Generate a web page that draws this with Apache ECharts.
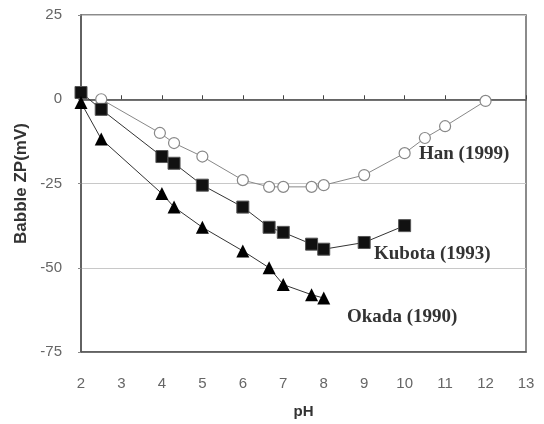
<!DOCTYPE html>
<html>
<head>
<meta charset="utf-8">
<script src="https://cdn.jsdelivr.net/npm/echarts@6/dist/echarts.min.js"></script>
<style>
  html, body { margin: 0; padding: 0; background: #fff; }
  #main { width: 544px; height: 424px; }
</style>
</head>
<body>
<div id="main"></div>
<script>
// pH / zeta potential readings for each study
var hanPH = [2.5, 3.95, 4.3, 5, 6, 6.65, 7, 7.7, 8, 9, 10, 10.5, 11, 12];
var hanZP = [0, -10, -13, -17, -24, -26, -26, -26, -25.5, -22.5, -16, -11.5, -8, -0.5];
var kubotaPH = [2, 2.5, 4, 4.3, 5, 6, 6.65, 7, 7.7, 8, 9, 10];
var kubotaZP = [2, -3, -17, -19, -25.5, -32, -38, -39.5, -43, -44.5, -42.5, -37.5];
var okadaPH = [2, 2.5, 4, 4.3, 5, 6, 6.65, 7, 7.7, 8];
var okadaZP = [-1, -11.8, -28, -32, -38, -45, -50, -55, -58, -59];
var xTicks = [2, 3, 4, 5, 6, 7, 8, 9, 10, 11, 12, 13];
var yTicks = [-75, -50, -25, 0, 25];

function pairs(xs, ys) {
    var out = [];
    for (var i = 0; i < xs.length; i++) {
        out.push([xs[i], ys[i]]);
    }
    return out;
}

var myChart = echarts.init(document.getElementById('main'));
var labelFont = { fontFamily: 'Liberation Serif', fontWeight: 'bold', fontSize: 19, fill: '#333' };

var option = {
    backgroundColor: '#fff',
    animation: false,
    grid: {
        left: 81, right: 18, top: 15, bottom: 68,
        show: true, borderColor: '#666', borderWidth: 1.5
    },
    xAxis: [{
        // zero line with ticks pointing up
        type: 'value', min: xTicks[0], max: xTicks[xTicks.length - 1], interval: 1,
        position: 'bottom',
        axisLine: { onZero: true, lineStyle: { color: '#444', width: 1.5 } },
        axisTick: { inside: true, length: 4, lineStyle: { color: '#444' } },
        axisLabel: { show: false },
        splitLine: { show: false }
    }, {
        type: 'value', min: xTicks[0], max: xTicks[xTicks.length - 1], interval: 1,
        position: 'bottom',
        name: 'pH', nameLocation: 'middle', nameGap: 52,
        nameTextStyle: { fontFamily: 'Liberation Sans', fontWeight: 'bold', fontSize: 15, color: '#333' },
        axisLine: { onZero: false, lineStyle: { color: '#555', width: 1.5 } },
        axisTick: { show: false },
        axisLabel: { margin: 24, color: '#666', fontSize: 15, fontFamily: 'Liberation Sans Narrow, Liberation Sans' },
        splitLine: { show: false }
    }],
    yAxis: {
        type: 'value', min: yTicks[0], max: yTicks[yTicks.length - 1], interval: 25,
        name: 'Babble ZP(mV)', nameLocation: 'middle', nameGap: 48,
        nameTextStyle: { fontFamily: 'Liberation Sans', fontWeight: 'bold', fontSize: 17, color: '#333' },
        axisLine: { show: true, lineStyle: { color: '#555', width: 1.5 } },
        axisTick: { show: true, length: 3, lineStyle: { color: '#888' } },
        axisLabel: { margin: 19, color: '#666', fontSize: 15, fontFamily: 'Liberation Sans Narrow, Liberation Sans' },
        splitLine: { show: true, lineStyle: { color: '#c8c8c8', width: 1 } }
    },
    series: [{
        name: 'Han (1999)', type: 'line', data: pairs(hanPH, hanZP),
        symbol: 'circle', symbolSize: 11,
        lineStyle: { color: '#888', width: 1 },
        itemStyle: { color: '#fff', borderColor: '#888', borderWidth: 1.2 },
        z: 3
    }, {
        name: 'Kubota (1993)', type: 'line', data: pairs(kubotaPH, kubotaZP),
        symbol: 'rect', symbolSize: 12,
        lineStyle: { color: '#333', width: 1 },
        itemStyle: { color: '#111', borderColor: '#555', borderWidth: 1 },
        z: 4
    }, {
        name: 'Okada (1990)', type: 'line', data: pairs(okadaPH, okadaZP),
        symbol: 'triangle', symbolSize: 13,
        lineStyle: { color: '#333', width: 1 },
        itemStyle: { color: '#000' },
        z: 5
    }],
    graphic: [
        { type: 'text', left: 419, top: 145, style: Object.assign({ text: 'Han (1999)' }, labelFont) },
        { type: 'text', left: 374, top: 245, style: Object.assign({ text: 'Kubota (1993)' }, labelFont) },
        { type: 'text', left: 347, top: 308, style: Object.assign({ text: 'Okada (1990)' }, labelFont) }
    ]
};
myChart.setOption(option);
</script>
</body>
</html>
